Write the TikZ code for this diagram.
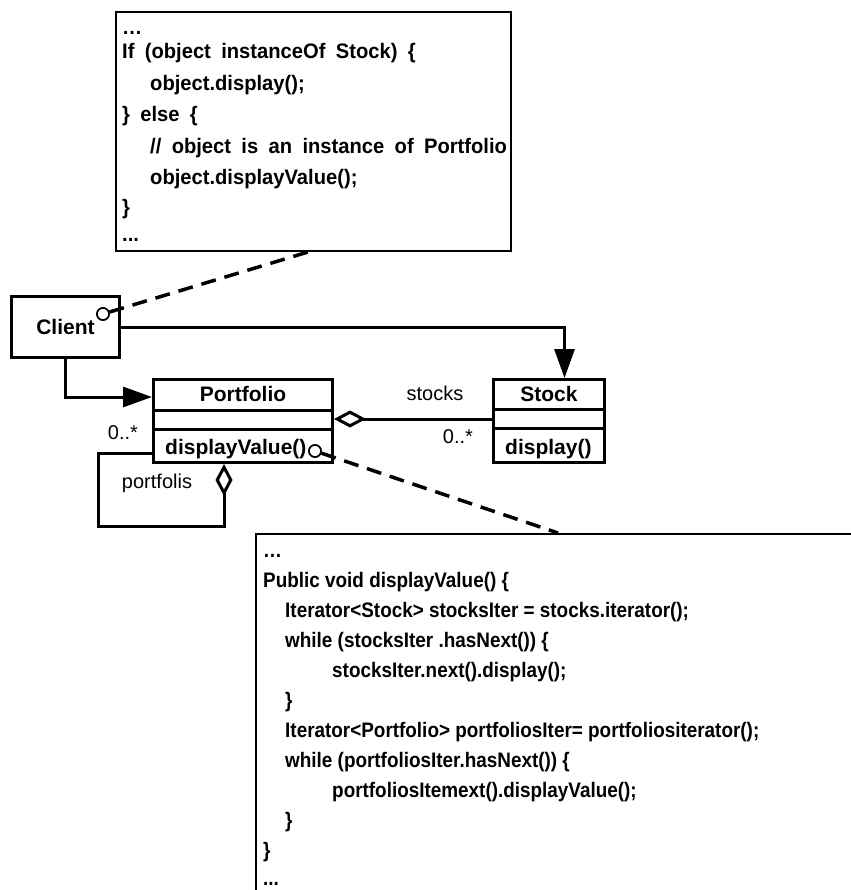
\documentclass[tikz,border=0pt]{standalone}
\usepackage{fontspec}
\setmainfont{Liberation Sans}
\newfontfamily\codefont[FakeStretch=0.9]{Liberation Sans}
\newfontfamily\widecodefont[FakeStretch=0.96,WordSpace=1.85]{Liberation Sans}
\usetikzlibrary{arrows.meta,calc}

\begin{document}
\begin{tikzpicture}[x=1pt,y=-1pt,
  umlbox/.style={draw,line width=3pt,rectangle,inner sep=0pt,anchor=north west},
  notebox/.style={draw,line width=2pt,rectangle,inner sep=0pt,anchor=north west},
  codeline/.style={font=\codefont\bfseries\fontsize{21}{25}\selectfont,anchor=base west,inner sep=0pt},
  widecodeline/.style={font=\widecodefont\bfseries\fontsize{21}{25}\selectfont,anchor=base west,inner sep=0pt},
  umltitle/.style={font=\bfseries\fontsize{21}{25}\selectfont,inner sep=0pt},
  umlop/.style={font=\bfseries\fontsize{21}{25}\selectfont,anchor=west,inner sep=0pt},
  rolelabel/.style={font=\fontsize{20}{24}\selectfont,inner sep=0pt},
  assoc/.style={line width=3pt,-{Triangle[length=29pt,width=20pt]}},
  aggr/.style={line width=3pt,{Diamond[open,length=32pt,width=17pt]}-},
  noteline/.style={line width=3.5pt,dash pattern=on 15pt off 9pt},
  port/.style={circle,draw,fill=white,line width=1.6pt,minimum size=12pt,inner sep=0pt}
]
\useasboundingbox (0,0) rectangle (850,890);

% ---------- note attached to the client ----------
\node[notebox,minimum width=395pt,minimum height=239pt] (noteA) at (115,11) {};
\node[widecodeline] (a0) at (122,35)  {…};
\node[widecodeline] (a1) at (122,59)  {If (object instanceOf Stock) \{};
\node[widecodeline] (a2) at (150,91)  {object.display();};
\node[widecodeline] (a3) at (122,122) {\} else \{};
\node[widecodeline] (a4) at (150,154) {// object is an instance of Portfolio};
\node[widecodeline] (a5) at (150,185) {object.displayValue();};
\node[widecodeline] (a6) at (122,215) {\}};
\node[widecodeline] (a7) at (122,242) {...};

% ---------- note attached to displayValue() ----------
\node[notebox,minimum width=700pt,minimum height=420pt] (noteB) at (255,533) {};
\node[codeline] (b0)  at (263,557) {…};
\node[codeline] (b1)  at (263,587) {Public void displayValue() \{};
\node[codeline] (b2)  at (285,617) {Iterator<Stock> stocksIter = stocks.iterator();};
\node[codeline] (b3)  at (285,647) {while (stocksIter .hasNext()) \{};
\node[codeline] (b4)  at (332,677) {stocksIter.next().display();};
\node[codeline] (b5)  at (285,707) {\}};
\node[codeline] (b6)  at (285,737) {Iterator<Portfolio> portfoliosIter= portfoliositerator();};
\node[codeline] (b7)  at (285,767) {while (portfoliosIter.hasNext()) \{};
\node[codeline] (b8)  at (332,797) {portfoliosItemext().displayValue();};
\node[codeline] (b9)  at (285,827) {\}};
\node[codeline] (b10) at (263,857) {\}};
\node[codeline] (b11) at (263,885) {...};

% ---------- classes ----------
\node[umlbox,minimum width=108pt,minimum height=61pt,font=\bfseries\fontsize{21}{25}\selectfont] (client) at (10,295) {Client};

\node[umlbox,minimum width=179pt,minimum height=83pt] (portfolio) at (152,378) {};
\draw[line width=3pt] ($(portfolio.north west)+(0,32)$) -- ($(portfolio.north east)+(0,32)$);
\draw[line width=3pt] ($(portfolio.north west)+(0,51)$) -- ($(portfolio.north east)+(0,51)$);
\node[umltitle] (portfolioname) at ($(portfolio.north)+(0,16)$) {Portfolio};
\node[umlop] (portfolioop) at ($(portfolio.south west)+(13,-15)$) {displayValue()};

\node[umlbox,minimum width=111pt,minimum height=83pt] (stock) at (492,378) {};
\draw[line width=3pt] ($(stock.north west)+(0,31)$) -- ($(stock.north east)+(0,31)$);
\draw[line width=3pt] ($(stock.north west)+(0,50)$) -- ($(stock.north east)+(0,50)$);
\node[umltitle] (stockname) at ($(stock.north)+(0,16)$) {Stock};
\node[umlop] (stockop) at ($(stock.south west)+(13,-15)$) {display()};

% ---------- associations ----------
\draw[assoc] (client.east) -| ($(stock.north)+(15.5,0)$);
\draw[assoc] (client.south) |- ($(portfolio.north west)+(0,19)$);
\draw[aggr] ($(portfolio.east)+(0,-2)$) -- ($(stock.west)+(0,-2)$);
\draw[aggr] ($(portfolio.south west)+(72,0)$) -- ++(0,62)
  -| ($(portfolio.south west)+(-54,-11)$) -- ($(portfolio.south west)+(0,-11)$);

\node[rolelabel] (stocksrole) at (435,393) {stocks};
\node[rolelabel] (stocksmult) at (458,437) {0..*};
\node[rolelabel] (portmult) at (123,433) {0..*};
\node[rolelabel] (portrole) at (157,483) {portfolis};

% ---------- note links ----------
\coordinate (noteAfoot) at ($(noteA.south west)+(193,0)$);
\coordinate (noteBhead) at ($(noteB.north west)+(303,0)$);
\node[port] (clientport) at (103,314) {};
\node[port] (opport) at (315,451) {};
\draw[noteline] (clientport) -- (noteAfoot);
\draw[noteline] (opport) -- (noteBhead);
\node[port] at (clientport) {};
\node[port] at (opport) {};
\end{tikzpicture}
\end{document}
